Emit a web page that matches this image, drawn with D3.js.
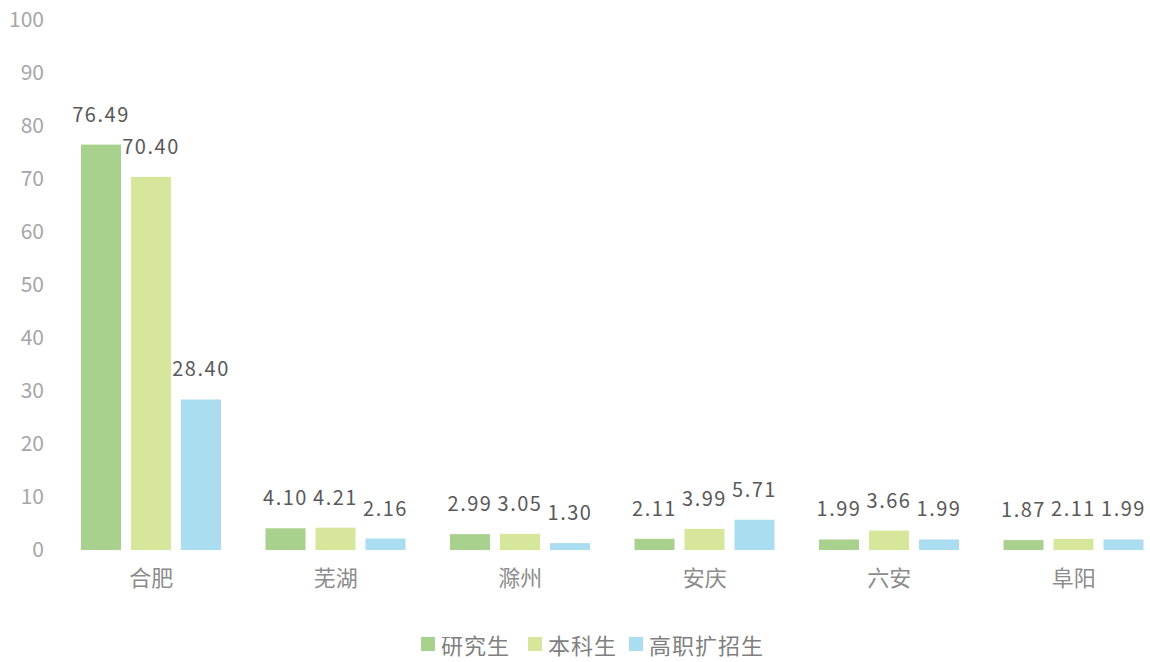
<!DOCTYPE html>
<html>
<head>
<meta charset="utf-8">
<script src="https://cdn.jsdelivr.net/npm/d3@7"></script>
<style>
  body { margin: 0; background: #fff; }
  svg { display: block; }
</style>
</head>
<body>
<svg id="chart" width="1150" height="662"></svg>
<script>
// data
var cities = ["合肥", "芜湖", "滁州", "安庆", "六安", "阜阳"];
var series = ["研究生", "本科生", "高职扩招生"];
var yanjiusheng = [76.49, 4.10, 2.99, 2.11, 1.99, 1.87];
var benkesheng = [70.40, 4.21, 3.05, 3.99, 3.66, 2.11];
var gaozhi = [28.40, 2.16, 1.30, 5.71, 1.99, 1.99];
var yTicks = [0, 10, 20, 30, 40, 50, 60, 70, 80, 90, 100];
var colors = ["#a9d18e", "#d6e79b", "#a9ddef"];

var values = [yanjiusheng, benkesheng, gaozhi];

var svg = d3.select("#chart");
var font = "'Noto Sans CJK SC', 'Noto Sans', sans-serif";

var x0 = d3.scaleBand().domain(cities).range([59, 1166]).padding(0);
var x1 = d3.scaleBand().domain(series).range([22, 162]).paddingInner(0.2);
var y = d3.scaleLinear().domain([0, 100]).range([550, 20]);

// y axis labels (no line, no ticks)
var yAxis = d3.axisLeft(y).tickValues(yTicks).tickSize(0).tickPadding(0);
var ga = svg.append("g").attr("transform", "translate(44,0)").call(yAxis);
ga.select(".domain").remove();
ga.selectAll("text")
  .attr("fill", "#a6a6a6")
  .style("font-family", font)
  .style("font-size", "21px");

// x category labels
var xAxis = d3.axisBottom(x0).tickSize(0).tickPadding(0);
var gx = svg.append("g").attr("transform", "translate(0,570)").call(xAxis);
gx.select(".domain").remove();
gx.selectAll("text")
  .attr("fill", "#8c8c8c")
  .style("font-family", font)
  .style("font-size", "22px");

// bars
var rows = cities.map(function(c, i) {
  return { city: c, vals: series.map(function(s, j) { return { s: s, j: j, v: values[j][i] }; }) };
});

var grp = svg.selectAll(".grp")
  .data(rows)
  .enter().append("g")
  .attr("class", "grp")
  .attr("transform", function(d) { return "translate(" + x0(d.city) + ",0)"; });

grp.selectAll("rect")
  .data(function(d) { return d.vals; })
  .enter().append("rect")
  .attr("x", function(d) { return x1(d.s); })
  .attr("width", x1.bandwidth())
  .attr("y", function(d) { return y(d.v); })
  .attr("height", function(d) { return y(0) - y(d.v); })
  .attr("fill", function(d) { return colors[d.j]; });

grp.selectAll("text.val")
  .data(function(d) { return d.vals; })
  .enter().append("text")
  .attr("class", "val")
  .attr("x", function(d) { return x1(d.s) + x1.bandwidth() / 2; })
  .attr("y", function(d) { return y(d.v) - 23; })
  .attr("text-anchor", "middle")
  .attr("fill", "#595959")
  .style("font-family", font)
  .style("font-size", "20px")
  .style("letter-spacing", "1.5px")
  .text(function(d) { return d.v.toFixed(2); });

// legend
var legendX = [421, 528, 629];
var lg = svg.selectAll(".lg")
  .data(series)
  .enter().append("g")
  .attr("class", "lg")
  .attr("transform", function(d, i) { return "translate(" + legendX[i] + ",637)"; });
lg.append("rect")
  .attr("width", 14).attr("height", 14)
  .attr("fill", function(d, i) { return colors[i]; });
lg.append("text")
  .attr("x", 20).attr("y", 7)
  .attr("dominant-baseline", "central")
  .attr("fill", "#7f7f7f")
  .style("font-family", font)
  .style("font-size", "22px")
  .style("letter-spacing", "1px")
  .text(function(d) { return d; });
</script>
</body>
</html>
